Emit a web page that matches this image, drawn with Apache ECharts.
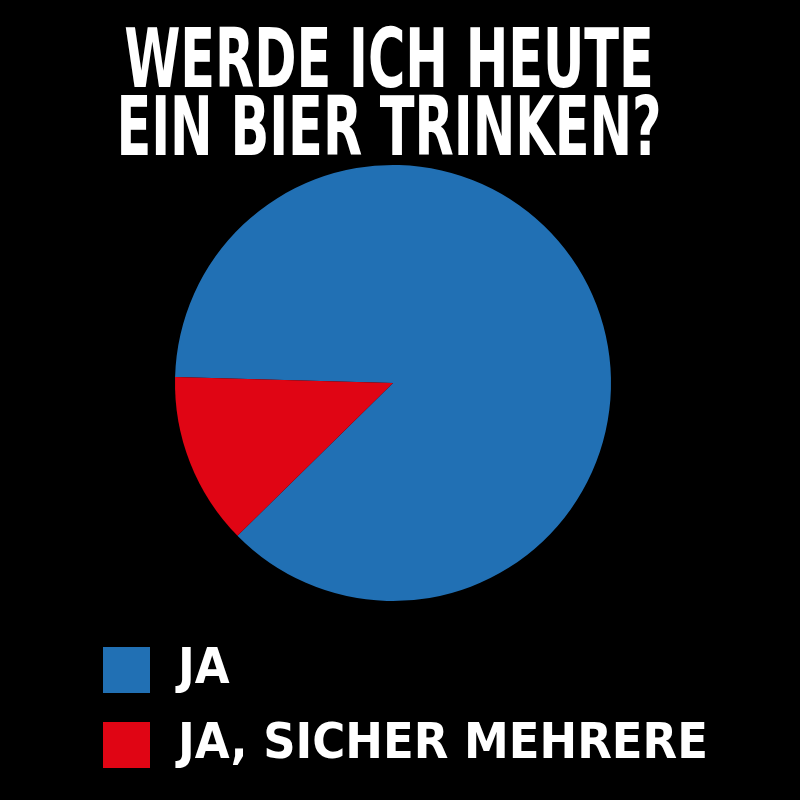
<!DOCTYPE html>
<html>
<head>
<meta charset="utf-8">
<style>html,body{margin:0;padding:0;background:#000;}#c{width:800px;height:800px;}</style>
<script src="https://cdn.jsdelivr.net/npm/echarts@6/dist/echarts.min.js"></script>
</head>
<body>
<div id="c"></div>
<script>
const titleLines = ['WERDE ICH HEUTE', 'EIN BIER TRINKEN?'];
const categories = ['JA', 'JA, SICHER MEHRERE'];
const values = [87.2, 12.8];
const colors = ['#2170b4', '#e00514'];

const titleFont = 'DejaVu Sans Condensed, sans-serif';
const chart = echarts.init(document.getElementById('c'), null, {renderer: 'canvas'});
chart.setOption({
  backgroundColor: '#000',
  animation: false,
  graphic: titleLines.map((t, i) => ({
    type: 'text',
    x: 389,
    y: [66, 134][i],
    scaleX: 0.69,
    silent: true,
    style: {
      text: t,
      fill: '#fff',
      font: 'bold 82px ' + titleFont,
      textAlign: 'center',
      textVerticalAlign: 'middle'
    }
  })),
  legend: {
    orient: 'vertical',
    left: 103,
    top: 645,
    padding: 0,
    itemWidth: 47,
    itemHeight: 46,
    itemGap: 25,
    icon: 'rect',
    selectedMode: false,
    data: categories,
    textStyle: {
      color: '#fff',
      fontFamily: titleFont,
      fontWeight: 'bold',
      fontSize: 50,
      padding: [0, 0, 0, 23]
    }
  },
  series: [{
    type: 'pie',
    center: [393, 383],
    radius: 218,
    startAngle: 178.4,
    clockwise: true,
    silent: true,
    label: {show: false},
    labelLine: {show: false},
    itemStyle: {borderWidth: 0},
    data: categories.map((n, i) => ({name: n, value: values[i], itemStyle: {color: colors[i]}}))
  }]
});
</script>
</body>
</html>
